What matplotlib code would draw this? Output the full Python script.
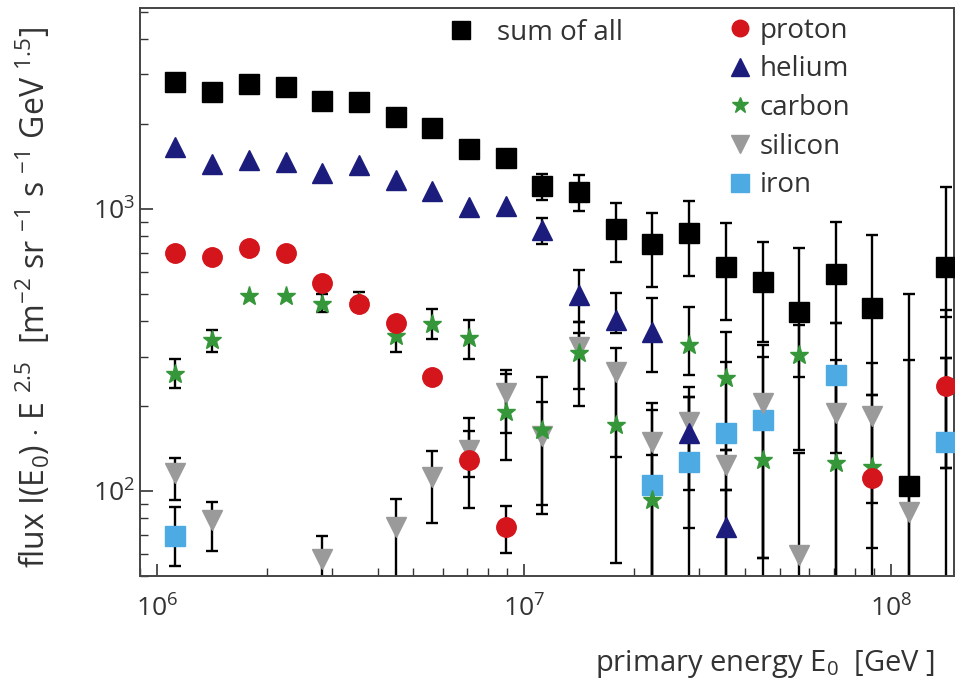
import numpy as np
import matplotlib
matplotlib.use("Agg")
import matplotlib.pyplot as plt
from matplotlib.lines import Line2D

plt.rcParams['font.family'] = ['Open Sans', 'DejaVu Sans']
plt.rcParams['mathtext.fontset'] = 'custom'
plt.rcParams['mathtext.rm'] = 'Open Sans'
plt.rcParams['mathtext.it'] = 'Open Sans:italic'
plt.rcParams['mathtext.bf'] = 'Open Sans:bold'

nan = np.nan

# ── energy bins (GeV) ───────────────────────────────────────────────
energy = [1.12e6, 1.41e6, 1.78e6, 2.24e6, 2.82e6, 3.55e6, 4.47e6, 5.62e6,
          7.08e6, 8.91e6, 1.12e7, 1.41e7, 1.78e7, 2.24e7, 2.82e7, 3.55e7,
          4.47e7, 5.62e7, 7.08e7, 8.91e7, 1.12e8, 1.41e8]

# ── flux * E^2.5 per species, with error bar ends (lo / hi) ─────────
sum_all = [2820, 2600, 2775, 2710, 2415, 2395, 2120, 1937, 1632, 1517, 1207,
           1149, 849, 752, 822, 622, 551, 431, 589, 446, 104, 622]
sum_lo = [nan] * 10 + [1076, 984, 649, 528, 578, 404, 337, 254, 394, 219, 20, 414]
sum_hi = [nan] * 10 + [1331, 1320, 1050, 968, 1067, 892, 764, 727, 899, 809, 500, 1197]

helium = [1660, 1445, 1494, 1469, 1342, 1432, 1267, 1159, 1016, 1025, 843,
          496, 404, 366, 161, 74.5] + [nan] * 6
he_lo = [nan] * 10 + [751, 397, 363, 264, 101, 20] + [nan] * 6
he_hi = [nan] * 10 + [929, 608, 504, 483, 215, 101] + [nan] * 6

proton = [698, 676, 728, 698, 547, 461, 394, 254, 129, 74.5] + [nan] * 9 + [111, nan, 236]
p_lo = [nan] * 8 + [87, 60.3] + [nan] * 9 + [63, nan, 121]
p_hi = [nan] * 8 + [164, 88.5] + [nan] * 9 + [219, nan, 438]

carbon = [260, 343, 491, 491, 460, 468, 355, 391, 349, 190.6, 164.5, 308,
          171, 93, 330, 252, 129, 303, 126, 122, nan, 236]
c_lo = [232, 311, nan, nan, 431, 438, 311, 346, 294, 129, 89, 230, 132, 20,
        258, 140, 58, 140, 20, 20, nan, 121]
c_hi = [294, 372, nan, nan, 500, 508, 388, 442, 404, 260, 254, 397, 273, 205,
        449, 366, 210, 388, 292, 190, nan, 297]

silicon = [116, 78.9, nan, nan, 57.4, nan, 74.5, 112, 140, 223, 157, 324,
           264, 149, 176, 124, 205, 59.3, 189, 185, 84.3, nan]
si_lo = [93, 61.2, nan, nan, 20, nan, 20, 77, 112, 161, 82.8, 200, 55.6, 20,
         74, 101, 20, 20, 20, 90.7, 20, nan]
si_hi = [131, 91.4, nan, nan, 69.2, nan, 93.8, 139, 182, 268, 207, 363, 321,
         194, 234, 140, 298, 136, 250, 285, 292, nan]

iron = [69.2] + [nan] * 12 + [105, 127, 161, 179, nan, 258, nan, nan, 149]
fe_lo = [54.2] + [nan] * 12 + [20, 20, 20, 58, nan, 137, nan, nan, 20]
fe_hi = [87.7] + [nan] * 12 + [134, 215, 287, 330, nan, 394, nan, nan, 297]

# (label, values, lo, hi, marker, colour, size)
series = [
    ("sum of all", sum_all, sum_lo, sum_hi, 's', 'black', 15),
    ("proton", proton, p_lo, p_hi, 'o', '#d4151b', 14),
    ("helium", helium, he_lo, he_hi, '^', '#1c1c7c', 15),
    ("carbon", carbon, c_lo, c_hi, '*', '#35973a', 14),
    ("silicon", silicon, si_lo, si_hi, 'v', '#9a9a9a', 15),
    ("iron", iron, fe_lo, fe_hi, 's', '#4eaae2', 15),
]

fig = plt.figure(figsize=(9.65, 6.85), dpi=100)
ax = fig.add_axes([0.1451, 0.1591, 0.8435, 0.8292])

x = np.array(energy)
handles = {}
for label, vals, lo, hi, mk, col, ms in series:
    v = np.array(vals, dtype=float)
    lo = np.array(lo, dtype=float)
    hi = np.array(hi, dtype=float)
    ok = ~np.isnan(lo) & ~np.isnan(v)
    ax.errorbar(x[ok], v[ok], yerr=[v[ok] - lo[ok], hi[ok] - v[ok]], fmt='none',
                ecolor='black', elinewidth=1.7, capsize=4.5, capthick=1.7, zorder=2)

draw_order = ["iron", "silicon", "carbon", "proton", "helium", "sum of all"]
for name in draw_order:
    label, vals, lo, hi, mk, col, ms = next(s for s in series if s[0] == name)
    ax.plot(x, vals, ls='none', marker=mk, ms=ms, color=col, mec=col, zorder=3)
    handles[label] = Line2D([], [], ls='none', marker=mk, ms=ms * 0.85, color=col, mec=col)

ax.set_xscale('log')
ax.set_yscale('log')
ax.set_xlim(8.99e5, 1.486e8)
ax.set_ylim(50, 5160)

ax.tick_params(which='both', direction='in', top=False, right=False,
               colors='#333333', labelsize=19)
ax.tick_params(which='major', length=9, width=1.2)
ax.tick_params(which='minor', length=5.5, width=1.0)
ax.tick_params(axis='x', which='major', pad=14)
ax.tick_params(axis='y', which='major', pad=4)
for sp in ax.spines.values():
    sp.set_color('#444444')
    sp.set_linewidth(1.4)

ax.set_ylabel(r"flux I(E$_0$) $\cdot$ E $^{2.5}$  [m$^{-2}$ sr $^{-1}$ s $^{-1}$ GeV $^{1.5}$]",
              fontsize=23, color='#333333')
ax.yaxis.set_label_coords(-0.108, 0.491)
ax.set_xlabel(r"primary energy E$_0$  [GeV ]", fontsize=21, color='#333333', ha='right')
ax.xaxis.set_label_coords(0.977, -0.126)

leg1 = ax.legend([handles["sum of all"]], ["sum of all"], loc='upper left',
                 bbox_to_anchor=(0.377, 0.981), frameon=False, fontsize=20,
                 handlelength=1.0, handletextpad=0.8, borderpad=0, borderaxespad=0,
                 labelcolor='#333333')
ax.add_artist(leg1)
names = ["proton", "helium", "carbon", "silicon", "iron"]
ax.legend([handles[n] for n in names], names, loc='upper left',
          bbox_to_anchor=(0.720, 0.985), frameon=False, fontsize=20,
          handlelength=1.0, handletextpad=0.22, labelspacing=0.385,
          borderpad=0, borderaxespad=0, labelcolor='#333333')

fig.savefig("out.png", dpi=100)
